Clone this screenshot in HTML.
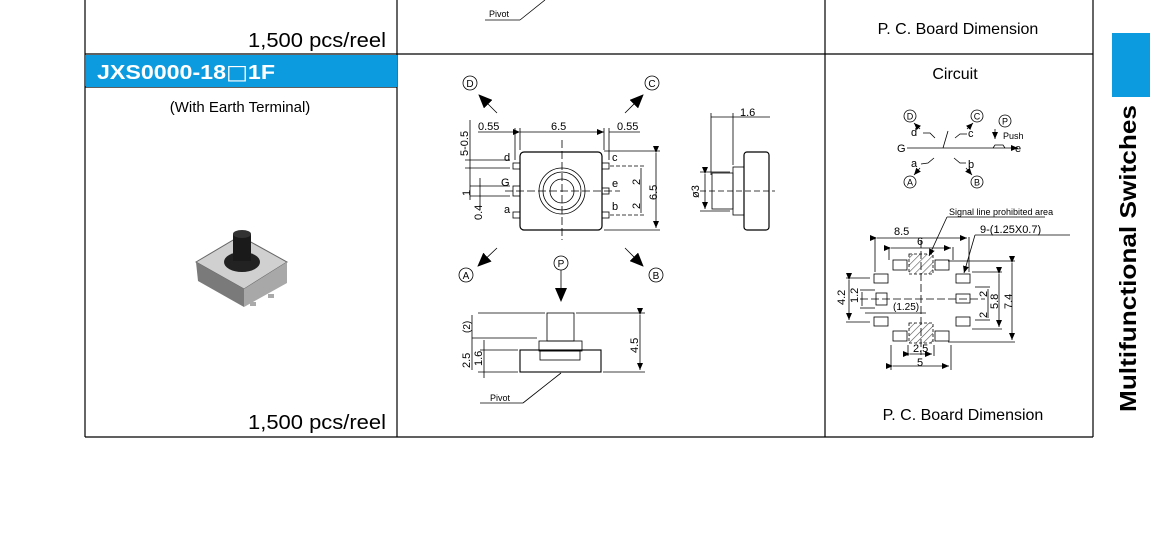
<!DOCTYPE html>
<html><head><meta charset="utf-8"><style>
html,body{margin:0;padding:0;background:#fff;}
svg{display:block;font-family:"Liberation Sans",Arial,sans-serif;}
</style></head><body>
<svg width="1150" height="542" viewBox="0 0 1150 542" xmlns="http://www.w3.org/2000/svg">
<defs>
<marker id="ar" markerWidth="8" markerHeight="8" refX="7" refY="4" orient="auto" markerUnits="userSpaceOnUse"><path d="M0,1L7,4L0,7z" fill="#000"/></marker>
<marker id="big" markerWidth="14" markerHeight="12" refX="13" refY="6" orient="auto" markerUnits="userSpaceOnUse"><path d="M0,0L14,6L0,12z" fill="#000"/></marker>
<pattern id="hatch" width="5" height="5" patternUnits="userSpaceOnUse" patternTransform="rotate(45)"><line x1="0" y1="0" x2="0" y2="5" stroke="#555" stroke-width="1.2"/></pattern>
</defs>
<g stroke="#000" stroke-width="1.2" fill="none">
<line x1="85" y1="0" x2="85" y2="437"/>
<line x1="397" y1="0" x2="397" y2="437"/>
<line x1="825" y1="0" x2="825" y2="437"/>
<line x1="1093" y1="0" x2="1093" y2="437"/>
<line x1="85" y1="54" x2="1093" y2="54"/>
<line x1="85" y1="437" x2="1093" y2="437"/>
<line x1="85" y1="87" x2="397" y2="87"/>
</g>
<rect x="86" y="55" width="311" height="32" fill="#0d9be0"/>
<text x="97" y="79" font-size="20" font-weight="bold" fill="#fff" textLength="178" lengthAdjust="spacingAndGlyphs">JXS0000-18<tspan font-family="DejaVu Sans" font-weight="normal">□</tspan>1F</text>
<text x="248" y="47" font-size="20" textLength="138" lengthAdjust="spacingAndGlyphs">1,500 pcs/reel</text>
<text x="248" y="429" font-size="20" textLength="138" lengthAdjust="spacingAndGlyphs">1,500 pcs/reel</text>
<text x="240" y="112" font-size="15" text-anchor="middle">(With Earth Terminal)</text>
<text x="958" y="34" font-size="16" text-anchor="middle">P. C. Board Dimension</text>
<text x="963" y="420" font-size="16" text-anchor="middle">P. C. Board Dimension</text>
<text x="955" y="79" font-size="16" text-anchor="middle">Circuit</text>
<rect x="1112" y="33" width="38" height="64" fill="#0d9be0"/>
<text transform="translate(1136,412) rotate(-90)" font-size="23" font-weight="bold" textLength="307" lengthAdjust="spacingAndGlyphs">Multifunctional Switches</text>
<line x1="485" y1="20" x2="520" y2="20" stroke="#000" stroke-width="0.8"/>
<line x1="520" y1="20" x2="545" y2="0" stroke="#000" stroke-width="0.8"/>
<text x="489" y="17" font-size="9">Pivot</text>
<g>
<path d="M196,262 L240,236 L287,262 L244,289 Z" fill="#d0d0d0" stroke="#666"/>
<path d="M196,262 L244,289 L244,307 L198,281 Z" fill="#7a7a7a"/>
<path d="M244,289 L287,262 L287,283 L244,307 Z" fill="#a8a8a8"/>
<ellipse cx="242" cy="262" rx="18" ry="10" fill="#222"/>
<rect x="233" y="234" width="18" height="27" fill="#1a1a1a"/>
<ellipse cx="242" cy="234" rx="9" ry="4" fill="#333"/>
<rect x="250" y="302" width="6" height="4" fill="#aaa"/><rect x="268" y="294" width="6" height="4" fill="#aaa"/>
</g>
<g stroke="#000" stroke-width="0.8" fill="none" font-size="11">
<circle cx="470" cy="83" r="7"/><circle cx="652" cy="83" r="7"/><circle cx="466" cy="275" r="7"/><circle cx="656" cy="275" r="7"/><circle cx="561" cy="263" r="7"/>
<line x1="497" y1="113" x2="479" y2="95" marker-end="url(#big)"/>
<line x1="625" y1="113" x2="643" y2="95" marker-end="url(#big)"/>
<line x1="497" y1="248" x2="478" y2="266" marker-end="url(#big)"/>
<line x1="625" y1="248" x2="643" y2="266" marker-end="url(#big)"/>
<line x1="561" y1="270" x2="561" y2="301" marker-end="url(#big)"/>
<rect x="520" y="152" width="82" height="78" rx="4" stroke-width="1.2"/>
<circle cx="562" cy="191" r="23"/><circle cx="562" cy="191" r="19"/><circle cx="562" cy="191" r="12"/>
<line x1="562" y1="140" x2="562" y2="240" stroke-dasharray="8,3"/>
<line x1="505" y1="191" x2="620" y2="191" stroke-dasharray="8,3"/>
<rect x="513" y="163" width="7" height="6"/><rect x="513" y="186" width="7" height="10"/><rect x="513" y="212" width="7" height="6"/>
<rect x="602" y="163" width="7" height="6"/><rect x="602" y="188" width="7" height="6"/><rect x="602" y="212" width="7" height="6"/>
<line x1="515" y1="128" x2="515" y2="160"/><line x1="520" y1="128" x2="520" y2="150"/>
<line x1="604" y1="128" x2="604" y2="150"/><line x1="609" y1="128" x2="609" y2="160"/>
<line x1="478" y1="132" x2="515" y2="132"/><line x1="520" y1="132" x2="604" y2="132" marker-start="url(#ar)" marker-end="url(#ar)"/><line x1="609" y1="132" x2="640" y2="132"/>
<line x1="604" y1="151" x2="660" y2="151"/><line x1="604" y1="230" x2="660" y2="230"/>
<line x1="656" y1="153" x2="656" y2="228" marker-start="url(#ar)" marker-end="url(#ar)"/>
<line x1="610" y1="166" x2="645" y2="166" stroke-dasharray="4,2"/><line x1="610" y1="215" x2="645" y2="215" stroke-dasharray="4,2"/>
<line x1="641" y1="168" x2="641" y2="213"/>
<line x1="465" y1="160" x2="510" y2="160"/><line x1="465" y1="168" x2="510" y2="168"/>
<line x1="470" y1="120" x2="470" y2="200"/><line x1="480" y1="178" x2="480" y2="210"/>
<line x1="470" y1="186" x2="510" y2="186"/><line x1="470" y1="196" x2="510" y2="196"/>
<rect x="744" y="152" width="25" height="78" rx="3" stroke-width="1.2"/>
<rect x="733" y="167" width="11" height="48"/>
<rect x="712" y="173" width="21" height="36"/>
<line x1="711" y1="113" x2="711" y2="175"/><line x1="733" y1="113" x2="733" y2="165"/>
<line x1="711" y1="117" x2="770" y2="117"/>
<line x1="700" y1="172" x2="730" y2="172"/><line x1="700" y1="211" x2="730" y2="211"/>
<line x1="705" y1="174" x2="705" y2="209" marker-start="url(#ar)" marker-end="url(#ar)"/>
<line x1="700" y1="191" x2="775" y2="191" stroke-dasharray="6,3"/>
<rect x="547" y="313" width="27" height="28"/>
<rect x="539" y="341" width="43" height="10"/>
<rect x="520" y="350" width="81" height="22" stroke-width="1.1"/>
<rect x="540" y="351" width="40" height="9"/>
<line x1="478" y1="313" x2="545" y2="313"/><line x1="576" y1="313" x2="645" y2="313"/>
<line x1="478" y1="372" x2="518" y2="372"/><line x1="603" y1="372" x2="645" y2="372"/>
<line x1="640" y1="315" x2="640" y2="370" marker-start="url(#ar)" marker-end="url(#ar)"/>
<line x1="472" y1="338" x2="537" y2="338"/><line x1="480" y1="350" x2="518" y2="350"/>
<line x1="472" y1="315" x2="472" y2="370"/><line x1="484" y1="340" x2="484" y2="378"/>
<line x1="561" y1="373" x2="523" y2="403"/><line x1="480" y1="403" x2="523" y2="403"/>
</g>
<g font-size="11" fill="#000">
<g font-size="10" text-anchor="middle">
<text x="470" y="87">D</text><text x="652" y="87">C</text>
<text x="466" y="279">A</text><text x="656" y="279">B</text><text x="561" y="267">P</text>
</g>
<text x="478" y="130">0.55</text><text x="551" y="130">6.5</text><text x="617" y="130">0.55</text>
<text x="740" y="116">1.6</text>
<text x="504" y="161">d</text><text x="501" y="186">G</text><text x="504" y="213">a</text>
<text x="612" y="161">c</text><text x="612" y="187">e</text><text x="612" y="210">b</text>
<text transform="translate(468,156) rotate(-90)">5-0.5</text>
<text transform="translate(470,196) rotate(-90)">1</text>
<text transform="translate(482,220) rotate(-90)">0.4</text>
<text transform="translate(640,185) rotate(-90)">2</text>
<text transform="translate(640,209) rotate(-90)">2</text>
<text transform="translate(657,200) rotate(-90)">6.5</text>
<text transform="translate(699,198) rotate(-90)">ø3</text>
<text transform="translate(470,333) rotate(-90)" font-size="10">(2)</text>
<text transform="translate(470,368) rotate(-90)">2.5</text>
<text transform="translate(482,366) rotate(-90)">1.6</text>
<text transform="translate(638,353) rotate(-90)">4.5</text>
<text x="490" y="401" font-size="9">Pivot</text>
</g>
<g stroke="#000" stroke-width="0.8" fill="none" font-size="11">
<circle cx="910" cy="116" r="6"/><circle cx="977" cy="116" r="6"/><circle cx="1005" cy="121" r="6"/><circle cx="910" cy="182" r="6"/><circle cx="977" cy="182" r="6"/>
<line x1="907" y1="148" x2="1010" y2="148"/><line x1="1010" y1="148" x2="1018" y2="148" marker-end="url(#ar)"/>
<path d="M993,148 L995,145 L1003,145 L1005,148"/>
<line x1="943" y1="148" x2="948" y2="131"/>
<path d="M923,133 L930,133 L935,138"/><path d="M955,138 L960,134 L967,134"/>
<path d="M921,164 L928,163 L934,158"/><path d="M954,158 L960,163 L966,163"/>
<line x1="920" y1="129" x2="914" y2="123" marker-end="url(#ar)"/>
<line x1="967" y1="129" x2="973" y2="123" marker-end="url(#ar)"/>
<line x1="920" y1="168" x2="914" y2="175" marker-end="url(#ar)"/>
<line x1="966" y1="168" x2="972" y2="175" marker-end="url(#ar)"/>
<line x1="995" y1="129" x2="995" y2="139" marker-end="url(#ar)"/>
</g>
<g font-size="11">
<g font-size="9" text-anchor="middle">
<text x="910" y="119.5">D</text><text x="977" y="119.5">C</text><text x="1005" y="124.5">P</text>
<text x="910" y="185.5">A</text><text x="977" y="185.5">B</text>
</g>
<text x="911" y="136">d</text><text x="968" y="137">c</text><text x="897" y="152">G</text><text x="1015" y="152">e</text>
<text x="911" y="167">a</text><text x="968" y="168">b</text><text x="1003" y="139" font-size="9">Push</text>
</g>
<g stroke="#000" stroke-width="0.8" fill="none">
<rect x="909" y="254" width="24" height="20" fill="url(#hatch)" stroke-dasharray="3,2"/>
<rect x="909" y="323" width="24" height="20" fill="url(#hatch)" stroke-dasharray="3,2"/>
<rect x="893" y="260" width="14" height="10"/><rect x="935" y="260" width="14" height="10"/>
<rect x="874" y="274" width="14" height="9"/><rect x="956" y="274" width="14" height="9"/>
<rect x="876" y="293" width="11" height="12"/><rect x="956" y="294" width="14" height="9"/>
<rect x="874" y="317" width="14" height="9"/><rect x="956" y="317" width="14" height="9"/>
<rect x="893" y="331" width="14" height="10"/><rect x="935" y="331" width="14" height="10"/>
<line x1="875" y1="237" x2="875" y2="272"/><line x1="969" y1="237" x2="969" y2="272"/>
<line x1="877" y1="238" x2="967" y2="238" marker-start="url(#ar)" marker-end="url(#ar)"/>
<line x1="889" y1="247" x2="889" y2="260"/><line x1="953" y1="247" x2="953" y2="260"/>
<line x1="891" y1="248" x2="951" y2="248" marker-start="url(#ar)" marker-end="url(#ar)"/>
<line x1="948" y1="261" x2="1015" y2="261"/><line x1="948" y1="342" x2="1015" y2="342"/>
<line x1="1012" y1="263" x2="1012" y2="340" marker-start="url(#ar)" marker-end="url(#ar)"/>
<line x1="972" y1="272" x2="1002" y2="272"/><line x1="972" y1="329" x2="1002" y2="329"/>
<line x1="999" y1="274" x2="999" y2="327" marker-start="url(#ar)" marker-end="url(#ar)"/>
<line x1="975" y1="287" x2="990" y2="287"/><line x1="975" y1="320" x2="990" y2="320"/>
<line x1="988" y1="289" x2="988" y2="318"/>
<line x1="846" y1="278" x2="870" y2="278"/><line x1="846" y1="322" x2="870" y2="322"/>
<line x1="849" y1="280" x2="849" y2="320" marker-start="url(#ar)" marker-end="url(#ar)"/>
<line x1="860" y1="290" x2="875" y2="290"/><line x1="860" y1="308" x2="875" y2="308"/>
<line x1="862" y1="292" x2="862" y2="306"/>
<line x1="865" y1="313" x2="926" y2="313"/>
<line x1="860" y1="299" x2="985" y2="299" stroke-dasharray="8,3"/>
<line x1="921" y1="240" x2="921" y2="355" stroke-dasharray="8,3"/>
<line x1="891" y1="345" x2="891" y2="370"/><line x1="951" y1="345" x2="951" y2="370"/>
<line x1="893" y1="366" x2="949" y2="366" marker-start="url(#ar)" marker-end="url(#ar)"/>
<line x1="908" y1="345" x2="908" y2="356"/><line x1="934" y1="345" x2="934" y2="356"/>
<line x1="910" y1="354" x2="932" y2="354" marker-start="url(#ar)" marker-end="url(#ar)"/>
<line x1="947" y1="217" x2="1045" y2="217"/><line x1="947" y1="217" x2="929" y2="256" marker-end="url(#ar)"/>
<line x1="975" y1="235" x2="1070" y2="235"/><line x1="975" y1="235" x2="964" y2="273" marker-end="url(#ar)"/>
</g>
<g font-size="11">
<text x="949" y="215" font-size="9">Signal line prohibited area</text>
<text x="894" y="235">8.5</text><text x="917" y="245">6</text><text x="980" y="233">9-(1.25X0.7)</text>
<text x="893" y="310" font-size="10">(1.25)</text>
<text x="913" y="352">2.5</text><text x="917" y="366">5</text>
<text transform="translate(845,305) rotate(-90)">4.2</text>
<text transform="translate(858,303) rotate(-90)">1.2</text>
<text transform="translate(987,297) rotate(-90)">2</text>
<text transform="translate(987,318) rotate(-90)">2</text>
<text transform="translate(998,309) rotate(-90)">5.8</text>
<text transform="translate(1012,309) rotate(-90)">7.4</text>
</g>
</svg>
</body></html>
